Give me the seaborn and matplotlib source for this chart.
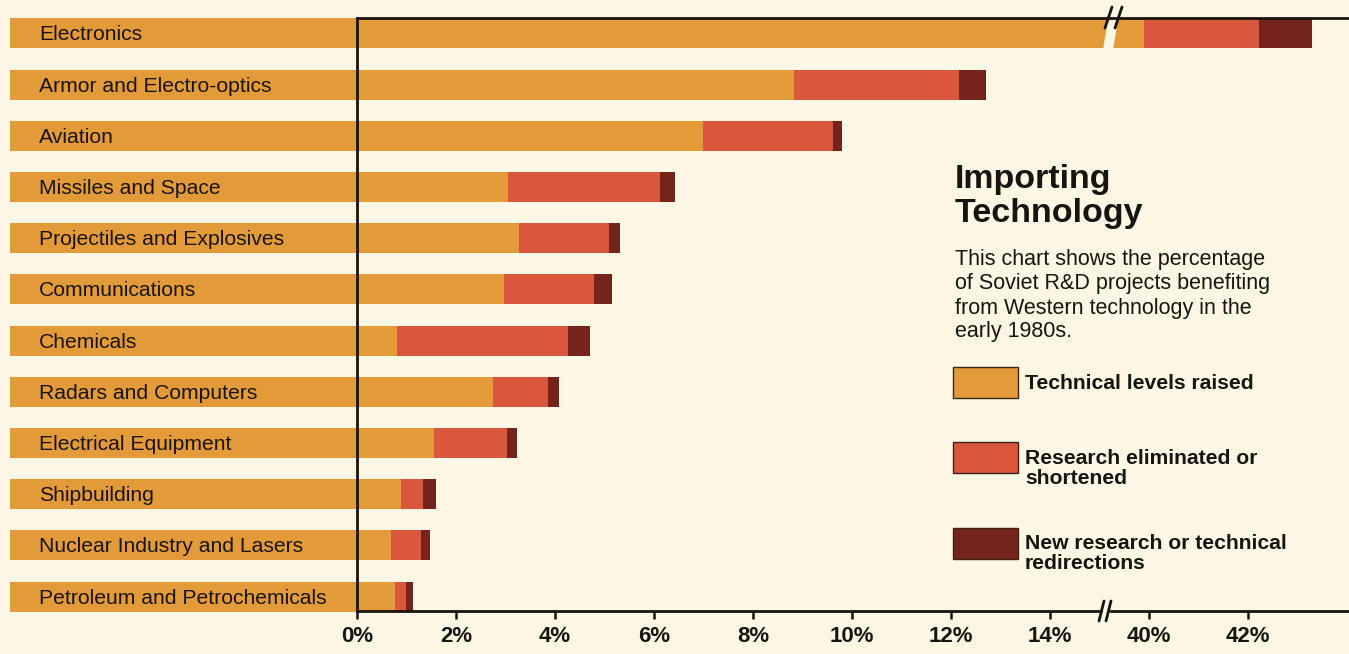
import numpy as np
import pandas as pd
import matplotlib
matplotlib.use("Agg")
import matplotlib.pyplot as plt
import seaborn as sns
from matplotlib.patches import Rectangle, Polygon
from matplotlib.lines import Line2D

# ---------------- data ----------------
categories = [
    "Electronics", "Armor and Electro-optics", "Aviation", "Missiles and Space",
    "Projectiles and Explosives", "Communications", "Chemicals",
    "Radars and Computers", "Electrical Equipment", "Shipbuilding",
    "Nuclear Industry and Lasers", "Petroleum and Petrochemicals",
]
technical = [39.89, 8.83, 6.98, 3.06, 3.28, 2.96, 0.81, 2.75, 1.56, 0.89, 0.69, 0.77]
research = [2.33, 3.34, 2.64, 3.07, 1.82, 1.82, 3.46, 1.10, 1.48, 0.45, 0.61, 0.22]
new_research = [1.07, 0.54, 0.18, 0.29, 0.22, 0.38, 0.43, 0.24, 0.20, 0.26, 0.18, 0.14]
tick_values = [0, 2, 4, 6, 8, 10, 12, 14, 40, 42]
tick_labels = [f"{v}%" for v in tick_values]
series_names = ["Technical levels raised",
                "Research eliminated or\nshortened",
                "New research or technical\nredirections"]
title_lines = ["Importing", "Technology"]
note_lines = ["This chart shows the percentage",
              "of Soviet R&D projects benefiting",
              "from Western technology in the",
              "early 1980s."]

# ---------------- style ----------------
BG = "#FCF6E4"
C_TECH = "#E39A38"
C_RES = "#D8573D"
C_NEW = "#74241A"
INK = "#1A1410"

BREAK_CUT = 15.5      # values above this are on the far side of the break
BREAK_SKIP = 24.0     # amount of axis removed by the break


def to_disp(v):
    v = np.asarray(v, dtype=float)
    return np.where(v > BREAK_CUT, v - BREAK_SKIP, v)


W, H = 1349, 654
PX_X = 49.5                  # pixels per percent
X0_PX = 357                  # pixel of 0 %
Y_TOP_PX, Y_BOT_PX = 18, 611
YLIM = (11.28, -0.30)
PX_Y = (Y_BOT_PX - Y_TOP_PX) / (YLIM[0] - YLIM[1])

sns.set_style("white")
plt.rcParams["font.family"] = ["Liberation Sans", "DejaVu Sans"]

fig = plt.figure(figsize=(W / 100, H / 100), dpi=100, facecolor=BG)
ax = fig.add_axes([0, (H - Y_BOT_PX) / H, 1, (Y_BOT_PX - Y_TOP_PX) / H])
ax.set_facecolor(BG)

tech = np.array(technical)
res = np.array(research)
new = np.array(new_research)
total = tech + res + new

bw = 0.585
sns.barplot(x=to_disp(total), y=categories, orient="h", color=C_NEW,
            saturation=1, width=bw, errorbar=None, ax=ax, linewidth=0)
sns.barplot(x=to_disp(tech + res), y=categories, orient="h", color=C_RES,
            saturation=1, width=bw, errorbar=None, ax=ax, linewidth=0)
sns.barplot(x=to_disp(tech), y=categories, orient="h", color=C_TECH,
            saturation=1, width=bw, errorbar=None, ax=ax, linewidth=0)

xmin = -X0_PX / PX_X
xmax = (W - X0_PX) / PX_X
label_left = (10 - X0_PX) / PX_X

# extend the first segment leftward to form the label strip
for p in ax.patches[-len(categories):]:
    x1 = p.get_x() + p.get_width()
    p.set_x(label_left)
    p.set_width(x1 - label_left)
    p.set_clip_on(False)

ax.set_xlim(xmin, xmax)
ax.set_ylim(*YLIM)
ax.set_xlabel("")
ax.set_ylabel("")
ax.set_yticks([])

# category labels inside the strip
for i, cat in enumerate(categories):
    ax.text((39 - X0_PX) / PX_X, i + 0.03, cat, ha="left", va="center",
            fontsize=15.2, color=INK, zorder=5)

# spines
for s in ["left", "top", "bottom"]:
    ax.spines[s].set_visible(True)
    ax.spines[s].set_color(INK)
    ax.spines[s].set_linewidth(2.0)
    ax.spines[s].set_zorder(6)
ax.spines["right"].set_visible(False)
ax.spines["left"].set_position(("data", 0))
ax.spines["top"].set_bounds(0, xmax)
ax.spines["bottom"].set_bounds(0, xmax)

ax.set_xticks(to_disp(tick_values))
ax.set_xticklabels(tick_labels, fontsize=16, fontweight="bold", color=INK)
ax.tick_params(axis="x", direction="out", length=6, width=1.8, color=INK,
               pad=5, bottom=True, top=False)

# ---------------- axis break ----------------
def px2x(px):
    return (px - X0_PX) / PX_X


def py2y(py):
    return YLIM[1] + (py - Y_TOP_PX) / PX_Y


gap = Polygon([(px2x(1108), py2y(19)), (px2x(1118), py2y(19)),
               (px2x(1113), py2y(50)), (px2x(1103), py2y(50))],
              closed=True, facecolor=BG, edgecolor="none", zorder=4)
ax.add_patch(gap)
for a, b in [(1112, 1105), (1122, 1115)]:
    ax.add_line(Line2D([px2x(a), px2x(b)], [py2y(7), py2y(28)], color=INK,
                       lw=2.0, zorder=7, clip_on=False))
# bottom break
bgap = Polygon([(px2x(1104), py2y(606)), (px2x(1111), py2y(606)),
                (px2x(1109), py2y(616)), (px2x(1102), py2y(616))],
               closed=True, facecolor=BG, edgecolor="none", zorder=7,
               clip_on=False)
ax.add_patch(bgap)
for a, b in [(1104, 1099), (1111, 1106)]:
    ax.add_line(Line2D([px2x(a), px2x(b)], [py2y(601), py2y(621)], color=INK,
                       lw=2.0, zorder=8, clip_on=False))

# ---------------- title / note / legend ----------------
def fx(px):
    return px / W


def fy(py):
    return (H - py) / H


for line, base in zip(title_lines, [188, 222]):
    fig.text(fx(955), fy(base), line, fontsize=24.5, fontweight="bold",
             color=INK, va="baseline", ha="left")
for line, base in zip(note_lines, [265, 289.5, 314, 337]):
    fig.text(fx(955), fy(base), line, fontsize=15.5, color=INK,
             va="baseline", ha="left")

colors = [C_TECH, C_RES, C_NEW]
patch_tops = [367, 442, 528]
label_bases = [[389], [464, 484], [549, 569]]
for name, col, top, bases in zip(series_names, colors, patch_tops, label_bases):
    fig.patches.append(Rectangle((fx(953), fy(top + 31)), 65 / W, 31 / H,
                                 transform=fig.transFigure, facecolor=col,
                                 edgecolor="#3A2418", linewidth=1.0))
    for line, base in zip(name.split("\n"), bases):
        fig.text(fx(1025), fy(base), line, fontsize=15.2, fontweight="bold",
                 color=INK, va="baseline", ha="left")

fig.savefig("out.png", dpi=100, facecolor=BG)
